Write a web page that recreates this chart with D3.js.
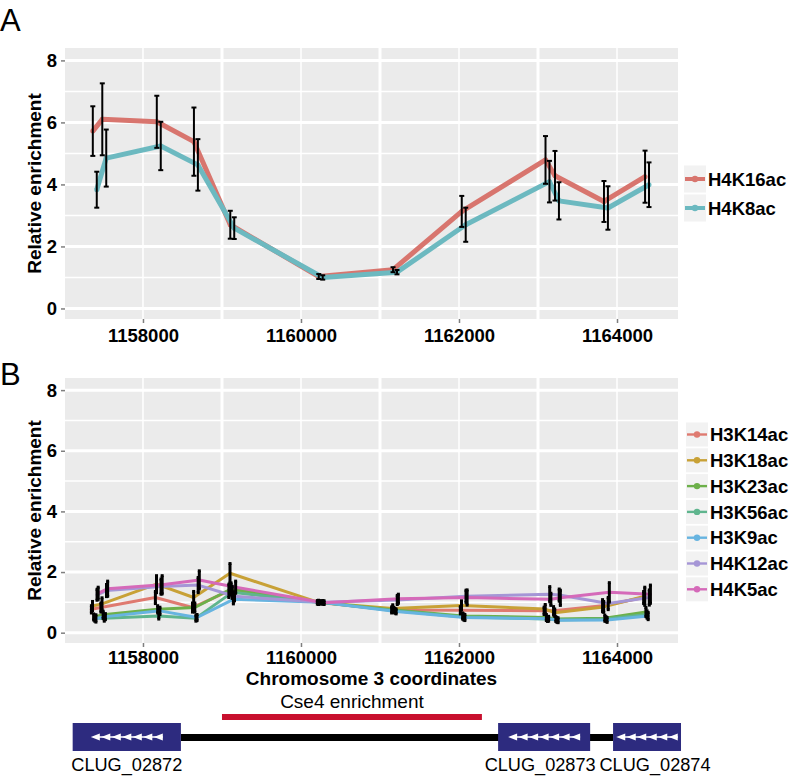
<!DOCTYPE html>
<html lang="en">
<head>
  <meta charset="UTF-8">
  <script src="https://cdn.jsdelivr.net/npm/d3@7"></script>
  <title>Histone acetylation</title>
  <style>
    body { margin: 0; background: #fff; }
    text { font-family: "Liberation Sans", Arial, Helvetica, sans-serif; }
  </style>
</head>
<body>
  <svg></svg>
<script>
const width = 789;
const height = 776;

// probe positions on chromosome 3
const positions = [1157390, 1157510, 1158200, 1158670, 1159130, 1160250, 1161190, 1162060, 1163120, 1163240, 1163860, 1164380];

// panel A
const seriesA = ['H4K16ac', 'H4K8ac'];
const colorsA = ['#d8756e', '#6cb9c0'];
const h4k16acMean = [5.72, 6.1, 6.02, 5.38, 2.7, 1.03, 1.25, 3.13, 4.79, 4.28, 3.45, 4.25];
const h4k16acErr = [0.8, 1.16, 0.84, 1.1, 0.45, 0.08, 0.08, 0.5, 0.77, 0.8, 0.66, 0.84];
const h4k8acMean = [3.83, 4.85, 5.24, 4.63, 2.59, 1.0, 1.17, 2.7, 4.09, 3.47, 3.24, 3.99];
const h4k8acErr = [0.58, 0.92, 0.78, 0.83, 0.35, 0.07, 0.07, 0.55, 0.67, 0.6, 0.7, 0.72];

// panel B
const seriesB = ['H3K14ac', 'H3K18ac', 'H3K23ac', 'H3K56ac', 'H3K9ac', 'H4K12ac', 'H4K5ac'];
const colorsB = ['#df7a70', '#c8a136', '#6db04a', '#5fb58e', '#67b4e0', '#a596d6', '#d56ab9'];
const h3k14acMean = [0.77, 0.83, 1.16, 0.83, 1.38, 1.0, 0.75, 0.74, 0.72, 0.72, 0.89, 1.16];
const h3k14acErr = [0.12, 0.15, 0.2, 0.15, 0.22, 0.06, 0.1, 0.12, 0.12, 0.14, 0.2, 0.2];
const h3k18acMean = [0.88, 0.95, 1.6, 1.16, 1.96, 1.0, 0.8, 0.9, 0.78, 0.66, 0.85, 1.2];
const h3k18acErr = [0.15, 0.2, 0.28, 0.2, 0.32, 0.07, 0.12, 0.15, 0.15, 0.12, 0.18, 0.3];
const h3k23acMean = [0.52, 0.59, 0.77, 0.83, 1.44, 1.0, 0.75, 0.55, 0.5, 0.45, 0.48, 0.68];
const h3k23acErr = [0.1, 0.12, 0.12, 0.15, 0.2, 0.05, 0.08, 0.1, 0.1, 0.08, 0.1, 0.15];
const h3k56acMean = [0.48, 0.48, 0.55, 0.48, 1.33, 1.0, 0.72, 0.52, 0.45, 0.42, 0.45, 0.6];
const h3k56acErr = [0.1, 0.1, 0.1, 0.1, 0.2, 0.05, 0.08, 0.1, 0.08, 0.08, 0.08, 0.12];
const h3k9acMean = [0.47, 0.53, 0.72, 0.5, 1.1, 1.0, 0.7, 0.5, 0.46, 0.41, 0.42, 0.55];
const h3k9acErr = [0.12, 0.1, 0.12, 0.1, 0.15, 0.05, 0.08, 0.1, 0.08, 0.08, 0.08, 0.12];
const h4k12acMean = [1.25, 1.39, 1.52, 1.57, 1.2, 1.0, 1.08, 1.2, 1.27, 1.24, 0.96, 1.16];
const h4k12acErr = [0.18, 0.2, 0.25, 0.25, 0.15, 0.06, 0.15, 0.2, 0.25, 0.2, 0.2, 0.25];
const h4k5acMean = [1.3, 1.45, 1.58, 1.74, 1.5, 0.99, 1.12, 1.16, 1.1, 1.15, 1.33, 1.27];
const h4k5acErr = [0.2, 0.25, 0.3, 0.3, 0.2, 0.06, 0.15, 0.25, 0.2, 0.25, 0.32, 0.3];

// axes
const xDomain = [1157013, 1164772];
const yDomain = [-0.34, 8.4];
const xTicks = [1158000, 1160000, 1162000, 1164000];
const xMinor = [1159000, 1161000, 1163000];
const yTicks = [0, 2, 4, 6, 8];
const yMinor = [1, 3, 5, 7];

// gene track
const genes = ['CLUG_02872', 'CLUG_02873', 'CLUG_02874'];
const geneStart = [1157110, 1162495, 1163950];
const geneEnd = [1158480, 1163660, 1164810];
const arrowCounts = [7, 7, 6];
const cse4Region = [1159000, 1162290];

const svg = d3.select('svg').attr('width', width).attr('height', height);

const xScale = d3.scaleLinear().domain(xDomain).range([65, 678]);
const yScaleA = d3.scaleLinear().domain(yDomain).range([319, 48]);
const yScaleB = d3.scaleLinear().domain(yDomain).range([643, 378]);

const dodge = 100;

const paintPanel = (layer, yScale, names, colors, means, errs, opts) => {
  const [x0, x1] = xScale.range();
  const [y0, y1] = yScale.range();
  layer.append('rect').attr('x', x0).attr('y', y1)
    .attr('width', x1 - x0).attr('height', y0 - y1).attr('fill', '#ebebeb');

  const grid = layer.append('g');
  grid.selectAll('.hmin').data(yMinor).enter().append('line')
    .attr('x1', x0).attr('x2', x1)
    .attr('y1', d => yScale(d)).attr('y2', d => yScale(d))
    .attr('stroke', '#fff').attr('stroke-width', 1.5);
  grid.selectAll('.hmaj').data(yTicks).enter().append('line')
    .attr('x1', x0).attr('x2', x1)
    .attr('y1', d => yScale(d)).attr('y2', d => yScale(d))
    .attr('stroke', '#fff').attr('stroke-width', 3);
  grid.selectAll('.vmaj').data(xTicks).enter().append('line')
    .attr('y1', y0).attr('y2', y1)
    .attr('x1', d => xScale(d)).attr('x2', d => xScale(d))
    .attr('stroke', '#fff').attr('stroke-width', 1.5);
  grid.selectAll('.vmin').data(xMinor).enter().append('line')
    .attr('y1', y0).attr('y2', y1)
    .attr('x1', d => xScale(d)).attr('x2', d => xScale(d))
    .attr('stroke', '#fff').attr('stroke-width', 3);

  // axes
  const yAxis = d3.axisLeft(yScale).tickValues(yTicks).tickSize(4).tickPadding(4);
  const xAxis = d3.axisBottom(xScale).tickValues(xTicks).tickSize(4).tickPadding(opts.xPad).tickFormat(d3.format('d'));
  const ya = layer.append('g').attr('transform', `translate(${x0},0)`).call(yAxis);
  const xa = layer.append('g').attr('transform', `translate(0,${y0})`).call(xAxis);
  [ya, xa].forEach(a => {
    a.select('.domain').remove();
    a.selectAll('line').attr('stroke', '#7f7f7f').attr('stroke-width', 1.5);
    a.selectAll('text').attr('fill', '#000').style('font-size', '18.5px').style('font-weight', 'bold');
  });

  layer.append('text')
    .attr('transform', `translate(41,${(y0 + y1) / 2}) rotate(-90)`)
    .attr('text-anchor', 'middle')
    .style('font-size', '19px').style('font-weight', 'bold')
    .text('Relative enrichment');

  const n = names.length;
  const off = i => (i - (n - 1) / 2) * dodge / n;

  // lines
  names.forEach((name, i) => {
    const pts = positions.map((p, k) => [xScale(p + off(i)), yScale(means[i][k])]);
    layer.append('path')
      .attr('d', d3.line()(pts))
      .attr('fill', 'none').attr('stroke', colors[i])
      .attr('stroke-width', opts.lw).attr('stroke-linejoin', 'round');
    layer.append('g').selectAll('circle').data(pts).enter().append('circle')
      .attr('cx', d => d[0]).attr('cy', d => d[1]).attr('r', opts.lw / 2)
      .attr('fill', colors[i]);
  });

  // error bars
  names.forEach((name, i) => {
    const g = layer.append('g').attr('stroke', '#000').attr('stroke-width', opts.ew);
    positions.forEach((p, k) => {
      const cx = xScale(p + off(i));
      const lo = yScale(means[i][k] - errs[i][k]);
      const hi = yScale(means[i][k] + errs[i][k]);
      g.append('line').attr('x1', cx).attr('x2', cx).attr('y1', lo).attr('y2', hi);
      g.append('line').attr('x1', cx - opts.cap).attr('x2', cx + opts.cap).attr('y1', lo).attr('y2', lo);
      g.append('line').attr('x1', cx - opts.cap).attr('x2', cx + opts.cap).attr('y1', hi).attr('y2', hi);
    });
  });

  // legend
  const lg = layer.append('g');
  names.forEach((name, i) => {
    const cy = opts.legendY + i * opts.legendStep;
    lg.append('rect').attr('x', opts.keyX).attr('y', cy - opts.keyH / 2)
      .attr('width', 22).attr('height', opts.keyH).attr('fill', '#f2f2f2');
    lg.append('line').attr('x1', opts.keyX + 1).attr('x2', opts.keyX + 21)
      .attr('y1', cy).attr('y2', cy)
      .attr('stroke', colors[i]).attr('stroke-width', opts.lw * 0.8);
    lg.append('circle').attr('cx', opts.keyX + 11).attr('cy', cy).attr('r', 3.2).attr('fill', colors[i]);
    lg.append('text').attr('x', opts.keyX + 24).attr('y', cy).attr('dy', '0.36em')
      .style('font-size', '18.5px').style('font-weight', 'bold')
      .text(name);
  });
};

const layerA = svg.append('g');
paintPanel(layerA, yScaleA, seriesA, colorsA,
  [h4k16acMean, h4k8acMean], [h4k16acErr, h4k8acErr],
  { lw: 5, ew: 2, cap: 2.5, xPad: 6, legendY: 179, legendStep: 29, keyX: 684, keyH: 27 });

const layerB = svg.append('g');
paintPanel(layerB, yScaleB, seriesB, colorsB,
  [h3k14acMean, h3k18acMean, h3k23acMean, h3k56acMean, h3k9acMean, h4k12acMean, h4k5acMean],
  [h3k14acErr, h3k18acErr, h3k23acErr, h3k56acErr, h3k9acErr, h4k12acErr, h4k5acErr],
  { lw: 3, ew: 3, cap: 1.5, xPad: 4, legendY: 434.5, legendStep: 25.8, keyX: 686, keyH: 24 });

svg.append('text')
  .attr('x', (xScale.range()[0] + xScale.range()[1]) / 2).attr('y', 685)
  .attr('text-anchor', 'middle')
  .style('font-size', '19px').style('font-weight', 'bold')
  .text('Chromosome 3 coordinates');

// panel letters
svg.append('text').attr('x', 0).attr('y', 31).style('font-size', '31px').text('A');
svg.append('text').attr('x', 0).attr('y', 385).style('font-size', '31px').text('B');

// gene track
const labelNudge = [0, -4, 8];
const track = svg.append('g');
track.append('text')
  .attr('x', (xScale(cse4Region[0]) + xScale(cse4Region[1])) / 2).attr('y', 708)
  .attr('text-anchor', 'middle').style('font-size', '19px')
  .text('Cse4 enrichment');
track.append('rect')
  .attr('x', xScale(cse4Region[0])).attr('y', 714)
  .attr('width', xScale(cse4Region[1]) - xScale(cse4Region[0])).attr('height', 6)
  .attr('fill', '#c8102e');
track.append('rect')
  .attr('x', xScale(geneEnd[0])).attr('y', 734)
  .attr('width', xScale(geneStart[2]) - xScale(geneEnd[0])).attr('height', 7)
  .attr('fill', '#000');

genes.forEach((g, i) => {
  const gx0 = xScale(geneStart[i]);
  const gx1 = xScale(geneEnd[i]);
  track.append('rect').attr('x', gx0).attr('y', 723)
    .attr('width', gx1 - gx0).attr('height', 28).attr('fill', '#2d2b7f');
  const cnt = arrowCounts[i];
  const pitch = 10.5;
  const span = pitch * (cnt - 1) + 9;
  const start = (gx0 + gx1) / 2 - span / 2;
  const cy = 737;
  track.append('line').attr('x1', start + 4).attr('x2', start + span).attr('y1', cy).attr('y2', cy)
    .attr('stroke', '#fff').attr('stroke-width', 1.5);
  for (let k = 0; k < cnt; k++) {
    const tx = start + k * pitch;
    track.append('path')
      .attr('d', `M${tx},${cy} L${tx + 9},${cy - 3.5} L${tx + 9},${cy + 3.5} Z`)
      .attr('fill', '#fff');
  }
  track.append('text').attr('x', (gx0 + gx1) / 2 + labelNudge[i]).attr('y', 771)
    .attr('text-anchor', 'middle').style('font-size', '18px')
    .attr('textLength', 111).attr('lengthAdjust', 'spacingAndGlyphs')
    .text(g);
});
</script>
</body>
</html>
